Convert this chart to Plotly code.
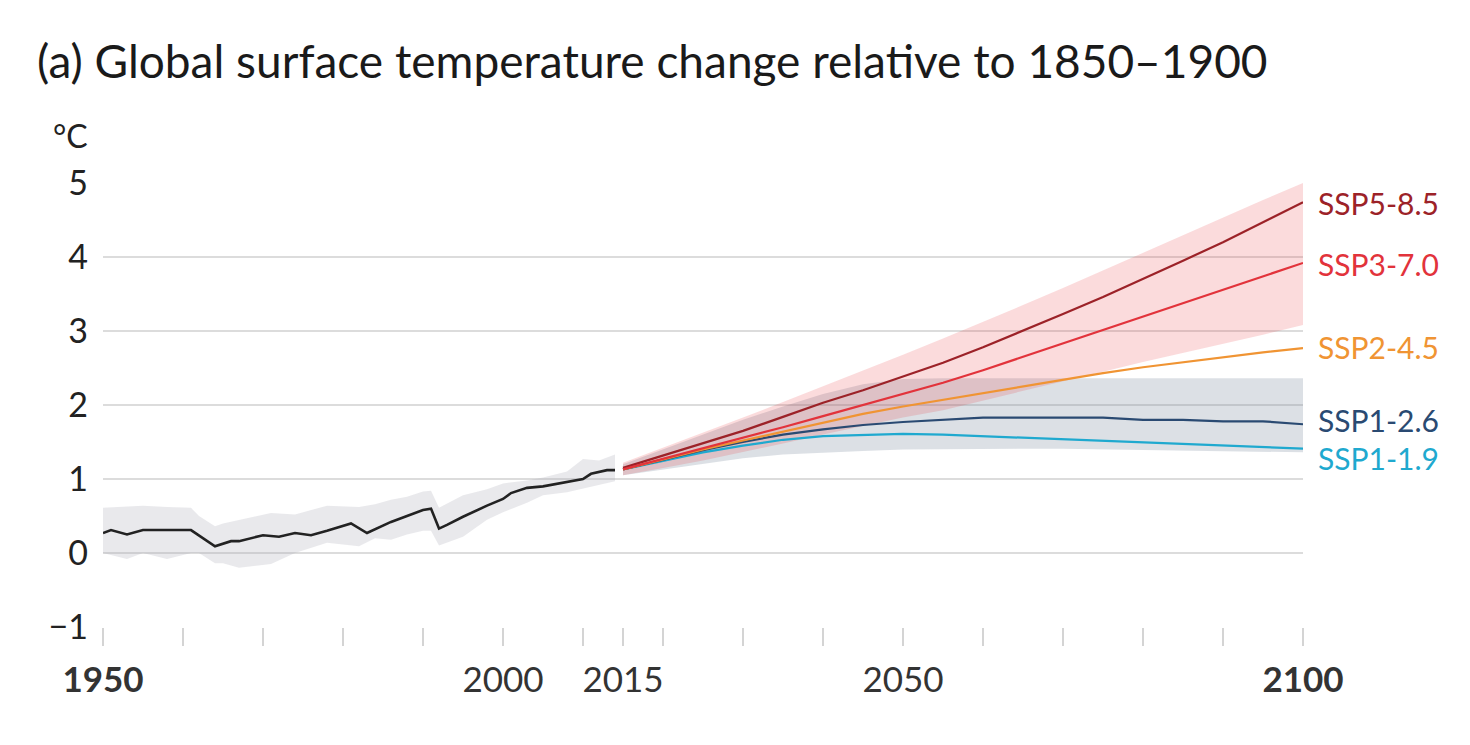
import plotly.graph_objects as go

# ---------------- data ----------------
hist_years = [1950, 1951, 1953, 1955, 1961, 1964, 1966, 1967, 1970, 1972, 1974, 1976, 1978,
              1981, 1983, 1986, 1988, 1990, 1991, 1992, 1993, 1995, 1998, 2000, 2001, 2003,
              2005, 2006, 2008, 2010, 2011, 2013, 2014]
hist_temp = [0.27, 0.31, 0.25, 0.31, 0.31, 0.09, 0.16, 0.16, 0.24, 0.22, 0.27, 0.24, 0.30,
             0.40, 0.27, 0.42, 0.50, 0.58, 0.60, 0.33, 0.38, 0.49, 0.64, 0.73, 0.81, 0.88,
             0.90, 0.92, 0.96, 1.00, 1.07, 1.12, 1.12]

hist_band_years = [1950, 1953, 1955, 1958, 1961, 1962, 1964, 1965, 1967, 1969, 1971, 1974,
                   1978, 1982, 1984, 1986, 1988, 1990, 1991, 1992, 1995, 1998, 2000, 2003,
                   2005, 2008, 2010, 2012, 2014]
hist_band_hi = [0.61, 0.63, 0.64, 0.62, 0.61, 0.50, 0.36, 0.40, 0.45, 0.50, 0.54, 0.52,
                0.64, 0.62, 0.66, 0.72, 0.76, 0.83, 0.84, 0.61, 0.78, 0.86, 0.94, 0.98,
                1.02, 1.10, 1.27, 1.25, 1.33]
hist_band_lo = [0.00, -0.08, 0.00, -0.08, 0.00, 0.00, -0.14, -0.14, -0.20, -0.17, -0.15, 0.00,
                0.14, 0.09, 0.20, 0.18, 0.25, 0.30, 0.30, 0.10, 0.22, 0.45, 0.55, 0.68,
                0.78, 0.82, 0.86, 0.92, 0.97]

proj_years = [2015, 2020, 2025, 2030, 2035, 2040, 2045, 2050, 2055, 2060, 2065, 2070,
              2075, 2080, 2085, 2090, 2095, 2100]

ssp119 = [1.13, 1.25, 1.36, 1.45, 1.53, 1.58, 1.60, 1.61, 1.60, 1.58, 1.56, 1.54,
          1.52, 1.50, 1.48, 1.45, 1.44, 1.41]
ssp126 = [1.13, 1.26, 1.39, 1.50, 1.60, 1.67, 1.73, 1.77, 1.80, 1.83, 1.83, 1.83,
          1.83, 1.80, 1.80, 1.78, 1.78, 1.74]
ssp245 = [1.13, 1.27, 1.40, 1.52, 1.64, 1.76, 1.88, 1.98, 2.07, 2.16, 2.26, 2.35,
          2.43, 2.51, 2.58, 2.65, 2.71, 2.77]
ssp370 = [1.13, 1.27, 1.41, 1.55, 1.70, 1.85, 2.00, 2.15, 2.30, 2.47, 2.65, 2.83,
          3.02, 3.20, 3.38, 3.56, 3.74, 3.92]
ssp585 = [1.15, 1.32, 1.48, 1.65, 1.84, 2.03, 2.20, 2.38, 2.57, 2.78, 3.00, 3.23,
          3.46, 3.70, 3.95, 4.20, 4.47, 4.74]

band126_hi = [1.20, 1.40, 1.60, 1.80, 1.98, 2.15, 2.28, 2.35, 2.36, 2.36, 2.36, 2.36,
              2.36, 2.36, 2.36, 2.36, 2.36, 2.36]
band126_lo = [1.05, 1.12, 1.20, 1.28, 1.33, 1.36, 1.38, 1.40, 1.41, 1.41, 1.41, 1.41,
              1.41, 1.40, 1.39, 1.38, 1.37, 1.36]
band370_hi = [1.22, 1.42, 1.62, 1.83, 2.04, 2.25, 2.47, 2.68, 2.90, 3.12, 3.35, 3.58,
              3.82, 4.06, 4.30, 4.53, 4.77, 5.00]
band370_lo = [1.05, 1.15, 1.25, 1.36, 1.48, 1.60, 1.72, 1.83, 1.93, 2.05, 2.18, 2.32,
              2.45, 2.58, 2.70, 2.83, 2.95, 3.08]

scenario_names = ["SSP1-1.9", "SSP1-2.6", "SSP2-4.5", "SSP5-8.5", "SSP3-7.0"]
scenario_values = [ssp119, ssp126, ssp245, ssp585, ssp370]
scenario_colors = ["#1fa9cf", "#2a4a72", "#f09433", "#9c2228", "#e2333b"]

tick_years = [1950, 1960, 1970, 1980, 1990, 2000, 2010, 2015, 2020, 2030, 2040,
              2050, 2060, 2070, 2080, 2090, 2100]
tick_labels = ["<b>1950</b>", "", "", "", "", "2000", "", "2015", "", "", "",
               "2050", "", "", "", "", "<b>2100</b>"]

# ---------------- figure ----------------
FONT = "Lato, 'Open Sans', sans-serif"
fig = go.Figure()

# historical band
fig.add_trace(go.Scatter(
    x=hist_band_years + hist_band_years[::-1],
    y=hist_band_hi + hist_band_lo[::-1],
    fill="toself", fillcolor="rgba(170,170,180,0.26)",
    line=dict(width=0), mode="lines", hoverinfo="skip", showlegend=False))

# projection bands
fig.add_trace(go.Scatter(
    x=proj_years + proj_years[::-1],
    y=band126_hi + band126_lo[::-1],
    fill="toself", fillcolor="rgba(120,135,155,0.26)",
    line=dict(width=0), mode="lines", hoverinfo="skip", showlegend=False))
fig.add_trace(go.Scatter(
    x=proj_years + proj_years[::-1],
    y=band370_hi + band370_lo[::-1],
    fill="toself", fillcolor="rgba(231,40,48,0.17)",
    line=dict(width=0), mode="lines", hoverinfo="skip", showlegend=False))

# historical line
fig.add_trace(go.Scatter(
    x=hist_years, y=hist_temp, mode="lines",
    line=dict(color="#222222", width=2.6), name="Historical", showlegend=False))

# scenario lines
for name, vals, col in zip(scenario_names, scenario_values, scenario_colors):
    fig.add_trace(go.Scatter(
        x=proj_years, y=vals, mode="lines",
        line=dict(color=col, width=2.2), name=name, showlegend=False))

# right-hand labels
label_y = {"SSP5-8.5": 4.73, "SSP3-7.0": 3.90, "SSP2-4.5": 2.78,
           "SSP1-2.6": 1.80, "SSP1-1.9": 1.28}
for name, col in zip(scenario_names, scenario_colors):
    fig.add_annotation(
        x=proj_years[-1], y=label_y[name], xref="x", yref="y",
        text=name, showarrow=False, xanchor="left", yanchor="middle",
        xshift=13, font=dict(family=FONT, size=30, color=col))

# °C label
fig.add_annotation(
    x=-0.027, y=1.0, xref="paper", yref="paper", yshift=48,
    text="°C", showarrow=False, xanchor="center", yanchor="middle",
    font=dict(family=FONT, size=32, color="#222222"))

fig.update_layout(
    width=1470, height=745,
    paper_bgcolor="white", plot_bgcolor="white",
    margin=dict(l=95, r=175, t=175, b=126),
    title=dict(text="(a) Global surface temperature change relative to 1850–1900",
               x=29 / 1470, xanchor="left", y=1 - 54 / 745, yanchor="middle",
               font=dict(family=FONT, size=46, color="#1a1a1a")),
    font=dict(family=FONT, color="#333333"),
    showlegend=False,
)

fig.update_xaxes(
    range=[1950, 2100], tickmode="array", tickvals=tick_years, ticktext=tick_labels,
    ticks="outside", ticklen=18, tickwidth=1.5, tickcolor="#d4d4d4",
    showgrid=False, zeroline=False, showline=False,
    tickfont=dict(family=FONT, size=35, color="#333333"),
    ticklabelstandoff=4)

fig.update_yaxes(
    range=[-1, 5], tickvals=[-1, 0, 1, 2, 3, 4, 5],
    showgrid=True, gridcolor="#dcdcdc", gridwidth=2,
    zeroline=False, showline=False, ticks="",
    tickfont=dict(family=FONT, size=34, color="#222222"),
    ticklabelstandoff=14)

fig.write_html("out.html")
